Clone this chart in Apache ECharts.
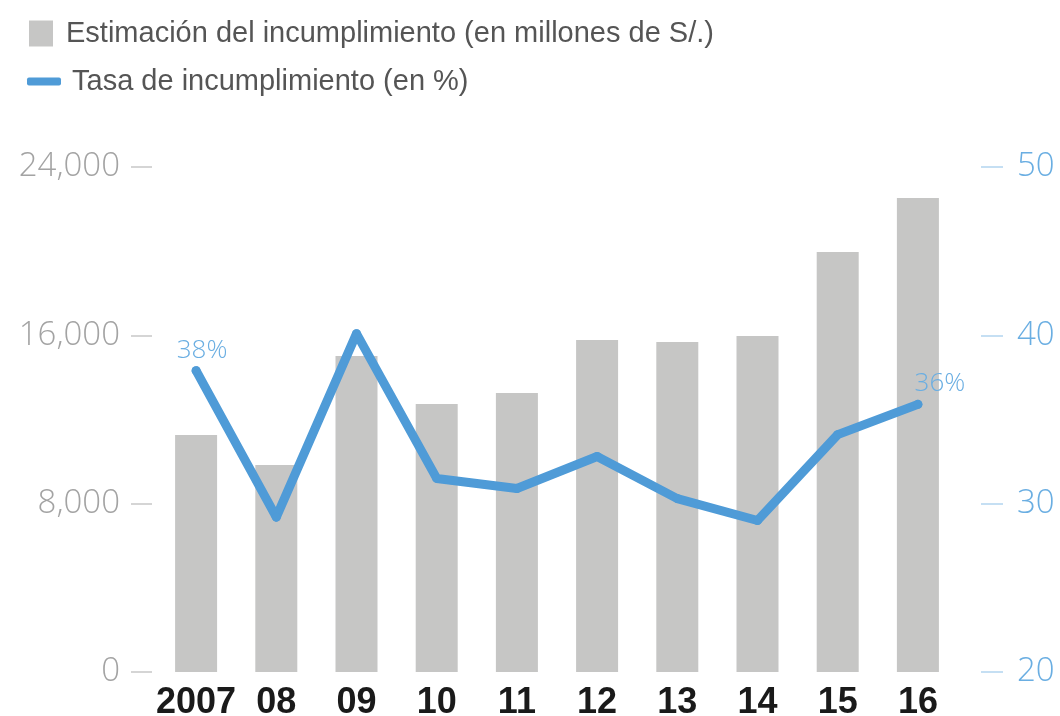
<!DOCTYPE html>
<html>
<head>
<meta charset="utf-8">
<title>Estimación del incumplimiento</title>
<script src="https://cdn.jsdelivr.net/npm/echarts@6/dist/echarts.min.js"></script>
<style>
    html, body { margin: 0; padding: 0; background: #fff; }
    #chart { width: 1060px; height: 716px; }
</style>
</head>
<body>
<div id="chart"></div>
<script>
// Data
// ------------------------------

var years = ['2007', '08', '09', '10', '11', '12', '13', '14', '15', '16'];
var amounts = [11260, 9840, 15020, 12740, 13260, 15780, 15680, 15970, 19960, 22530];
var rates = [37.9, 29.2, 40.1, 31.5, 30.9, 32.8, 30.3, 29.0, 34.1, 35.9];
var leftTicks = [0, 8000, 16000, 24000];
var rightTicks = [20, 30, 40, 50];

var barName = 'Estimación del incumplimiento (en millones de S/.)';
var lineName = 'Tasa de incumplimiento (en %)';

// Chart
// ------------------------------

var chart_element = document.getElementById('chart');
var chart = echarts.init(chart_element);

// only first and last point carry a label
var rateData = rates.map(function(v, i) {
    var item = { value: v };
    if (i === 0) {
        item.label = { show: true, position: 'top', offset: [6, 2] };
    } else if (i === rates.length - 1) {
        item.label = { show: true, position: 'top', offset: [22, 2] };
    }
    return item;
});

chart.setOption({
    animation: false,
    textStyle: {
        fontFamily: 'Open Sans, sans-serif'
    },

    legend: [{
        left: 24,
        top: 14,
        itemWidth: 24,
        itemHeight: 26,
        icon: 'rect',
        data: [barName],
        textStyle: {
            fontFamily: 'Liberation Sans, sans-serif',
            fontSize: 29,
            color: '#555',
            padding: [0, 0, 0, 8]
        }
    }, {
        left: 22,
        top: 62,
        itemWidth: 34,
        itemHeight: 8,
        icon: 'roundRect',
        data: [lineName],
        textStyle: {
            fontFamily: 'Liberation Sans, sans-serif',
            fontSize: 29,
            color: '#555',
            padding: [0, 0, 0, 6]
        }
    }],

    grid: {
        left: 156,
        right: 102,
        top: 167,
        bottom: 44,
        outerBoundsMode: 'none'
    },

    xAxis: [{
        type: 'category',
        data: years,
        axisLine: { show: false },
        axisTick: { show: false },
        axisLabel: {
            interval: 0,
            margin: 13,
            color: '#1a1a1a',
            fontFamily: 'Liberation Sans, sans-serif',
            fontWeight: 'bold',
            fontSize: 36
        }
    }],

    yAxis: [{
        type: 'value',
        position: 'left',
        min: leftTicks[0],
        max: leftTicks[leftTicks.length - 1],
        interval: leftTicks[1] - leftTicks[0],
        offset: 4,
        axisLine: { show: false },
        axisTick: {
            show: true,
            length: 21,
            lineStyle: { color: '#c8c8c8', width: 1.5 }
        },
        splitLine: { show: false },
        axisLabel: {
            margin: 32,
            color: '#a3a3a3',
            fontSize: 33,
            fontWeight: 300,
            padding: [12, 0, 0, 0],
            formatter: function(v) { return v.toLocaleString('en-US'); }
        }
    }, {
        type: 'value',
        position: 'right',
        min: rightTicks[0],
        max: rightTicks[rightTicks.length - 1],
        interval: rightTicks[1] - rightTicks[0],
        offset: 23,
        axisLine: { show: false },
        axisTick: {
            show: true,
            length: 22,
            lineStyle: { color: '#b3d5f0', width: 1.5 }
        },
        splitLine: { show: false },
        axisLabel: {
            margin: 36,
            color: '#6aaee2',
            fontSize: 33,
            fontWeight: 300,
            padding: [12, 0, 0, 0]
        }
    }],

    series: [{
        name: barName,
        type: 'bar',
        barWidth: 42,
        yAxisIndex: 0,
        itemStyle: { color: '#c6c6c5' },
        data: amounts
    }, {
        name: lineName,
        type: 'line',
        yAxisIndex: 1,
        symbol: 'circle',
        symbolSize: 9,
        showSymbol: true,
        lineStyle: { color: '#4f9bd7', width: 9, cap: 'round', join: 'round' },
        itemStyle: { color: '#4f9bd7' },
        label: {
            show: false,
            color: '#6aaee2',
            fontSize: 26,
            fontWeight: 300,
            fontFamily: 'Open Sans, sans-serif',
            formatter: function(p) { return Math.round(p.value) + '%'; }
        },
        data: rateData
    }]
});
</script>
</body>
</html>
